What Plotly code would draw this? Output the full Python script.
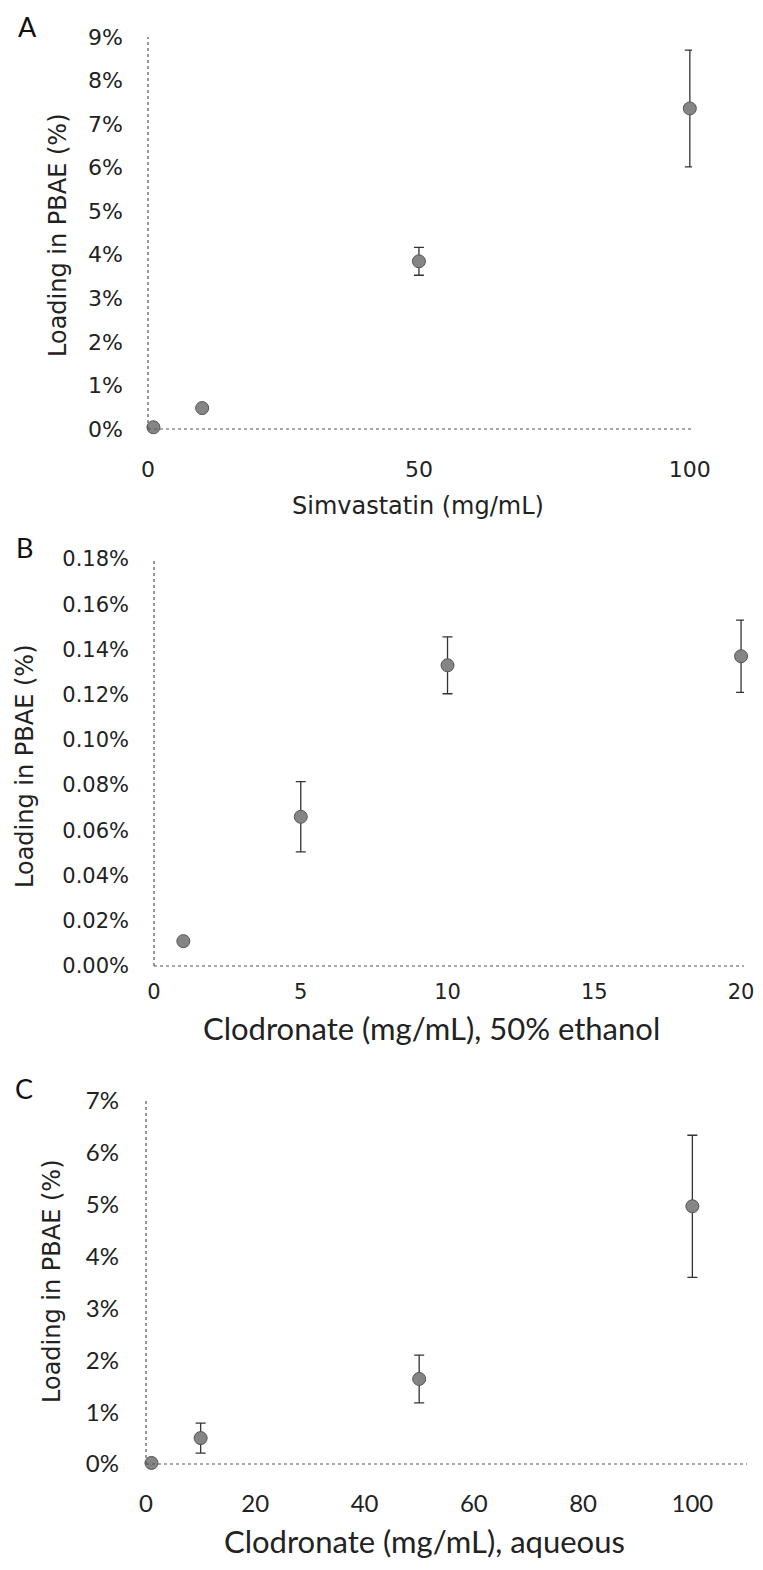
import plotly.graph_objects as go

# page is 763x1570; the browser body adds an 8px margin, so the figure is 16px smaller
PAGE_W, PAGE_H = 763, 1570
OFF = 8
FW, FH = PAGE_W - 2 * OFF, PAGE_H - 2 * OFF

# Panel A: Simvastatin
a_x = [1, 10, 50, 100]
a_y = [0.04, 0.48, 3.85, 7.36]
a_err = [0, 0, 0.32, 1.34]
a_xticks = [0, 50, 100]
a_yticks = [0, 1, 2, 3, 4, 5, 6, 7, 8, 9]

# Panel B: Clodronate, 50% ethanol
b_x = [1, 5, 10, 20]
b_y = [0.011, 0.066, 0.133, 0.137]
b_err = [0, 0.0155, 0.0126, 0.016]
b_xticks = [0, 5, 10, 15, 20]
b_yticks = [0, 0.02, 0.04, 0.06, 0.08, 0.10, 0.12, 0.14, 0.16, 0.18]

# Panel C: Clodronate, aqueous
c_x = [1, 10, 50, 100]
c_y = [0.02, 0.50, 1.64, 4.97]
c_err = [0, 0.29, 0.46, 1.37]
c_xticks = [0, 20, 40, 60, 80, 100]
c_yticks = [0, 1, 2, 3, 4, 5, 6, 7]

VER = "DejaVu Sans"
CAL = "Lato"


def fx(x):
    return (x - OFF) / FW


def fy(y):
    return 1 - (y - OFF) / FH


fig = go.Figure()

panels = [
    dict(x=a_x, y=a_y, e=a_err, xr=[0, 100.4], yr=[0, 9], xd=(148, 692), yd=(37, 429),
         xt=a_xticks, yt=a_yticks, yfmt=".0f", tfont=(VER, 22), xs=25, ys=24,
         xtitle="Simvastatin (mg/mL)", xtfont=(VER, 24), xtpos=(418, 506),
         ytpos=(58, 235), letter="A", lpos=(27, None)),
    dict(x=b_x, y=b_y, e=b_err, xr=[0, 20.1], yr=[0, 0.18], xd=(154, 744), yd=(559, 966),
         xt=b_xticks, yt=b_yticks, yfmt=".2f", tfont=(VER, 21), xs=11, ys=24,
         xtitle="Clodronate (mg/mL), 50% ethanol", xtfont=(CAL, 31), xtpos=(431, 1028),
         ytpos=(25, 766), letter="B", lpos=(24, 547)),
    dict(x=c_x, y=c_y, e=c_err, xr=[0, 110], yr=[0, 7], xd=(146, 747), yd=(1101, 1464),
         xt=c_xticks, yt=c_yticks, yfmt=".0f", tfont=(CAL, 24), xs=23, ys=26,
         xtitle="Clodronate (mg/mL), aqueous", xtfont=(CAL, 31), xtpos=(425, None),
         ytpos=(52, 1281), letter="C", lpos=(24, 1088)),
]

layout = dict(width=FW, height=FH, margin=dict(l=0, r=0, t=0, b=0, autoexpand=False),
              paper_bgcolor="white", plot_bgcolor="white", showlegend=False)
annotations = []
shapes = []

for i, p in enumerate(panels, start=1):
    xa = "x" if i == 1 else f"x{i}"
    ya = "y" if i == 1 else f"y{i}"
    fig.add_trace(go.Scatter(
        x=p["x"], y=p["y"], mode="markers", xaxis=xa, yaxis=ya,
        marker=dict(size=13, color="#858585", line=dict(width=1, color="#555555")),
        error_y=dict(type="data", array=p["e"], visible=True, color="#333333",
                     thickness=1.3, width=5),
        cliponaxis=False,
    ))
    xkey = "xaxis" if i == 1 else f"xaxis{i}"
    ykey = "yaxis" if i == 1 else f"yaxis{i}"
    layout[xkey] = dict(domain=[fx(p["xd"][0]), fx(p["xd"][1])], range=p["xr"], anchor=ya,
                        tickvals=p["xt"], showgrid=False, zeroline=False, showline=False,
                        ticks="", ticklabelstandoff=p["xs"], automargin=False,
                        tickfont=dict(family=p["tfont"][0], size=p["tfont"][1], color="#222"))
    yticktext = [format(v, p["yfmt"]) + "%" for v in p["yt"]]
    layout[ykey] = dict(domain=[fy(p["yd"][1]), fy(p["yd"][0])], range=p["yr"], anchor=xa,
                        tickvals=p["yt"], ticktext=yticktext, showgrid=False, zeroline=False,
                        showline=False, ticks="", ticklabelstandoff=p["ys"], automargin=False,
                        tickfont=dict(family=p["tfont"][0], size=p["tfont"][1], color="#222"))
    # dotted axis lines
    shapes.append(dict(type="line", xref=f"{xa} domain", yref=f"{ya} domain",
                       x0=0, x1=0, y0=0, y1=1, line=dict(color="#555", width=1.2, dash="dot")))
    shapes.append(dict(type="line", xref=f"{xa} domain", yref=f"{ya} domain",
                       x0=0, x1=1, y0=0, y1=0, line=dict(color="#555", width=1.2, dash="dot")))
    if p["xtpos"][1] is None:
        ty, tanchor = 0, "bottom"
    else:
        ty, tanchor = fy(p["xtpos"][1]), "middle"
    annotations.append(dict(text=p["xtitle"], xref="paper", yref="paper",
                            x=fx(p["xtpos"][0]), y=ty, showarrow=False,
                            xanchor="center", yanchor=tanchor,
                            font=dict(family=p["xtfont"][0], size=p["xtfont"][1], color="#222")))
    annotations.append(dict(text="Loading in PBAE (%)", xref="paper", yref="paper",
                            x=fx(p["ytpos"][0]), y=fy(p["ytpos"][1]), showarrow=False,
                            textangle=-90, xanchor="center", yanchor="middle",
                            font=dict(family=VER, size=24, color="#222")))
    if p["lpos"][1] is None:
        ly, lanchor = 1, "top"
    else:
        ly, lanchor = fy(p["lpos"][1]), "middle"
    annotations.append(dict(text=p["letter"], xref="paper", yref="paper",
                            x=fx(p["lpos"][0]), y=ly, showarrow=False,
                            xanchor="center", yanchor=lanchor,
                            font=dict(family=CAL, size=27, color="#111")))

layout["annotations"] = annotations
layout["shapes"] = shapes
fig.update_layout(**layout)
fig.write_html("out.html")
